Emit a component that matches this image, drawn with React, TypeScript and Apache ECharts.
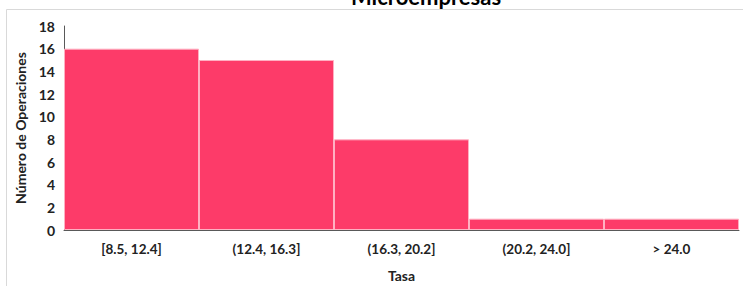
import React, { useEffect, useRef } from "react";
import * as echarts from "echarts";

const titleText = "Microempresas";
const categories = ["[8.5, 12.4]", "(12.4, 16.3]", "(16.3, 20.2]", "(20.2, 24.0]", "> 24.0"];
const counts = [16, 15, 8, 1, 1];
const yAxisName = "Número de Operaciones";
const xAxisName = "Tasa";

const FONT = "Lato, 'Open Sans', sans-serif";

export default function App() {
  const ref = useRef<HTMLDivElement>(null);
  useEffect(() => {
    if (!ref.current) return;
    const chart = echarts.init(ref.current, undefined, { renderer: "svg" });
    chart.setOption({
      animation: false,
      backgroundColor: "#ffffff",
      textStyle: { fontFamily: FONT },
      grid: { left: 64, right: 4, top: 26, bottom: 56, containLabel: false, outerBoundsMode: "none" },
      graphic: [
        {
          type: "rect",
          shape: { x: 6.5, y: 9.5, width: 900, height: 400 },
          style: { fill: "none", stroke: "#d9d9d9", lineWidth: 1 },
          silent: true,
        },
        {
          type: "text",
          x: 426,
          y: 7,
          style: {
            text: titleText,
            fontFamily: FONT,
            fontWeight: "bold",
            fontSize: 22,
            fill: "#000000",
            align: "center",
            verticalAlign: "bottom",
          },
          silent: true,
        },
      ],
      xAxis: {
        type: "category",
        data: categories,
        name: xAxisName,
        nameLocation: "middle",
        nameGap: 38,
        nameTextStyle: { fontFamily: FONT, fontWeight: "bold", fontSize: 14, color: "#222" },
        axisLine: { show: true, lineStyle: { color: "#595959", width: 1 } },
        axisTick: { show: false },
        axisLabel: { fontFamily: FONT, fontWeight: "bold", fontSize: 13.5, color: "#222", margin: 12 },
        splitLine: { show: false },
      },
      yAxis: {
        type: "value",
        min: 0,
        max: 18,
        interval: 2,
        name: yAxisName,
        nameLocation: "middle",
        nameGap: 36,
        nameRotate: 90,
        nameTextStyle: { fontFamily: FONT, fontWeight: "bold", fontSize: 14, color: "#222" },
        axisLine: { show: true, lineStyle: { color: "#595959", width: 1 } },
        axisTick: { show: false },
        axisLabel: { fontFamily: FONT, fontWeight: "bold", fontSize: 14, color: "#222", margin: 9 },
        splitLine: { show: false },
      },
      series: [
        {
          type: "bar",
          data: counts,
          barWidth: "100%",
          barCategoryGap: "0%",
          itemStyle: { color: "#fd3b69", borderColor: "#ffb0c2", borderWidth: 1 },
        },
      ],
    });
    return () => chart.dispose();
  }, []);
  return (
    <div
      ref={ref}
      style={{ position: "fixed", left: 0, top: 0, width: 743, height: 286 }}
    />
  );
}
